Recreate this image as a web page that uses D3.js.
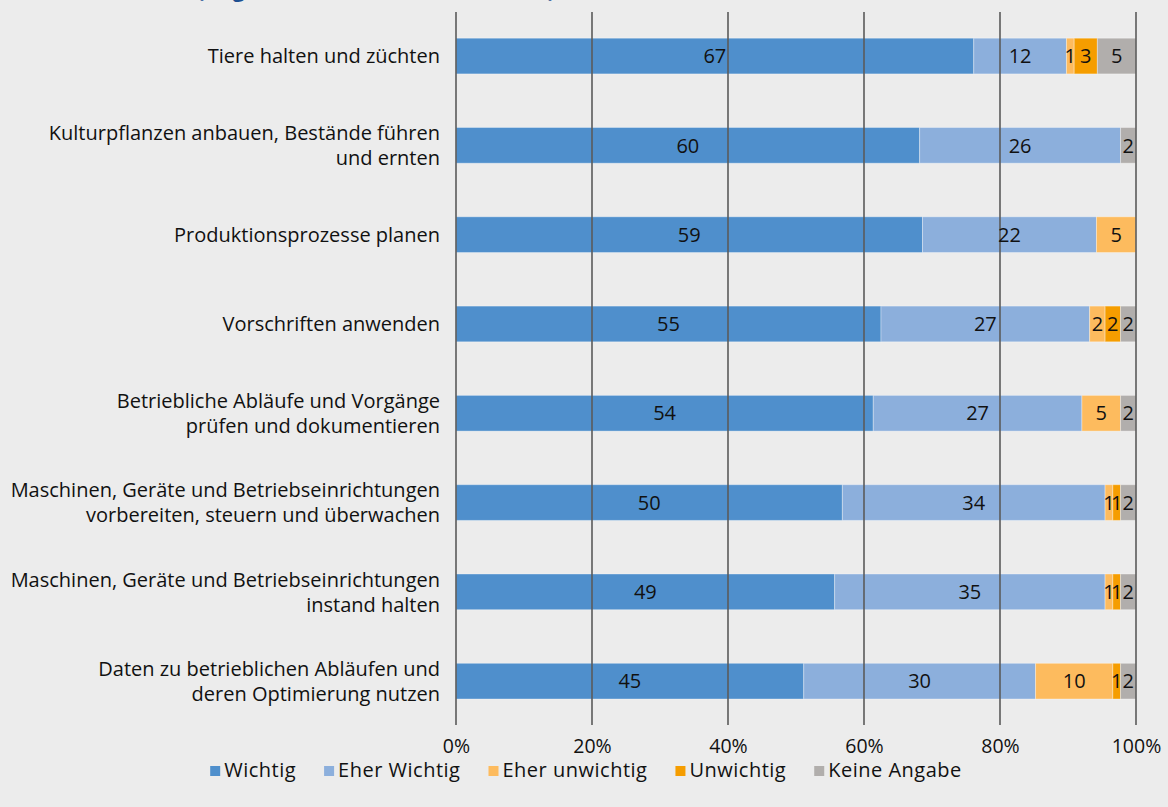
<!DOCTYPE html>
<html>
<head>
<meta charset="utf-8">
<script src="https://cdn.jsdelivr.net/npm/d3@7"></script>
<style>
  html, body { margin: 0; padding: 0; background: #ececec; }
  svg { display: block; }
  text { font-family: "Open Sans", "Noto Sans", sans-serif; }
</style>
</head>
<body>
<svg id="chart" width="1168" height="807"></svg>
<script>
const categories = [
  "Tiere halten und züchten",
  "Kulturpflanzen anbauen, Bestände führen\nund ernten",
  "Produktionsprozesse planen",
  "Vorschriften anwenden",
  "Betriebliche Abläufe und Vorgänge\nprüfen und dokumentieren",
  "Maschinen, Geräte und Betriebseinrichtungen\nvorbereiten, steuern und überwachen",
  "Maschinen, Geräte und Betriebseinrichtungen\ninstand halten",
  "Daten zu betrieblichen Abläufen und\nderen Optimierung nutzen"
];
const seriesNames = ["Wichtig", "Eher Wichtig", "Eher unwichtig", "Unwichtig", "Keine Angabe"];
const wichtig       = [67, 60, 59, 55, 54, 50, 49, 45];
const eherWichtig   = [12, 26, 22, 27, 27, 34, 35, 30];
const eherUnwichtig = [1, 0, 5, 2, 5, 1, 1, 10];
const unwichtig     = [3, 0, 0, 2, 0, 1, 1, 1];
const keineAngabe   = [5, 2, 0, 2, 2, 2, 2, 2];
const tickValues = [0, 0.2, 0.4, 0.6, 0.8, 1.0];
const titleText = "(Angaben der Betriebe in Prozent)";

const colors = ["#4f8fcc", "#8cafdc", "#fdbb5e", "#f59d00", "#b1aeac"];
const seriesData = [wichtig, eherWichtig, eherUnwichtig, unwichtig, keineAngabe];
const FS = 20;

const svg = d3.select("#chart");

// partially visible title (cut off at the top edge, as in the reference)
svg.append("text")
  .attr("x", 197).attr("y", -3)
  .attr("textLength", 358)
  .attr("lengthAdjust", "spacingAndGlyphs")
  .attr("fill", "#1d4f91")
  .attr("font-weight", "bold")
  .attr("font-size", 21)
  .text(titleText);

const x = d3.scaleLinear().domain([0, 1]).range([456, 1136]);
const y = d3.scaleBand().domain(d3.range(categories.length))
  .range([11.4, 725.8]).paddingInner(0.6).paddingOuter(0.3);

const rows = categories.map((c, i) => {
  const o = { i };
  seriesNames.forEach((s, k) => o[s] = seriesData[k][i]);
  return o;
});
const stack = d3.stack().keys(seriesNames).offset(d3.stackOffsetExpand);
const stacked = stack(rows);

const g = svg.append("g");
stacked.forEach((layer, k) => {
  const lg = g.append("g");
  layer.forEach((d, i) => {
    const v = seriesData[k][i];
    if (v <= 0) return;
    const x0 = x(d[0]), x1 = x(d[1]);
    lg.append("rect")
      .attr("x", x0).attr("y", y(i))
      .attr("width", x1 - x0).attr("height", y.bandwidth())
      .attr("fill", colors[k])
      .attr("stroke", "rgba(255,255,255,0.35)")
      .attr("stroke-width", 1);
  });
});

// gridlines (drawn over bars)
svg.append("g").selectAll("line").data(tickValues).join("line")
  .attr("x1", d => x(d)).attr("x2", d => x(d))
  .attr("y1", 12).attr("y2", 725)
  .attr("stroke", "#5b5b5b").attr("stroke-width", 1.6);

// value labels
stacked.forEach((layer, k) => {
  layer.forEach((d, i) => {
    const v = seriesData[k][i];
    if (v <= 0) return;
    svg.append("text")
      .attr("x", (x(d[0]) + x(d[1])) / 2)
      .attr("y", y(i) + y.bandwidth() / 2)
      .attr("dy", "0.36em")
      .attr("text-anchor", "middle")
      .attr("font-size", FS)
      .attr("fill", "#111")
      .text(v);
  });
});

// axis
const xAxis = d3.axisBottom(x).tickValues(tickValues).tickFormat(d3.format(".0%")).tickSize(0);
const ax = svg.append("g").attr("transform", "translate(0,746)").call(xAxis);
ax.select(".domain").remove();
ax.selectAll("text").attr("y", 0).attr("dy", "0.36em")
  .attr("font-size", 19.5).attr("fill", "#111")
  .attr("font-family", "'Open Sans', sans-serif");

// category labels
const cl = svg.append("g");
categories.forEach((c, i) => {
  const lines = c.split("\n");
  const cy = y(i) + y.bandwidth() / 2;
  const lh = 25;
  lines.forEach((ln, j) => {
    cl.append("text")
      .attr("x", 440)
      .attr("y", cy + (j - (lines.length - 1) / 2) * lh)
      .attr("dy", "0.36em")
      .attr("text-anchor", "end")
      .attr("font-size", FS)
      .attr("fill", "#111")
      .text(ln);
  });
});

// legend
const leg = svg.append("g");
const items = [];
seriesNames.forEach((s, k) => {
  const it = leg.append("g");
  it.append("rect").attr("x", 0).attr("y", -4).attr("width", 10).attr("height", 10).attr("fill", colors[k]);
  const t = it.append("text").attr("x", 14).attr("y", 0).attr("dy", "0.36em")
    .attr("font-size", FS).attr("letter-spacing", 0.5).attr("fill", "#111").text(s);
  const w = 14 + t.node().getComputedTextLength();
  items.push({ it, w });
});
const gap = 28;
const total = d3.sum(items, d => d.w) + gap * (items.length - 1);
let cx = 586 - total / 2;
items.forEach(d => {
  d.it.attr("transform", `translate(${cx},770)`);
  cx += d.w + gap;
});
</script>
</body>
</html>
